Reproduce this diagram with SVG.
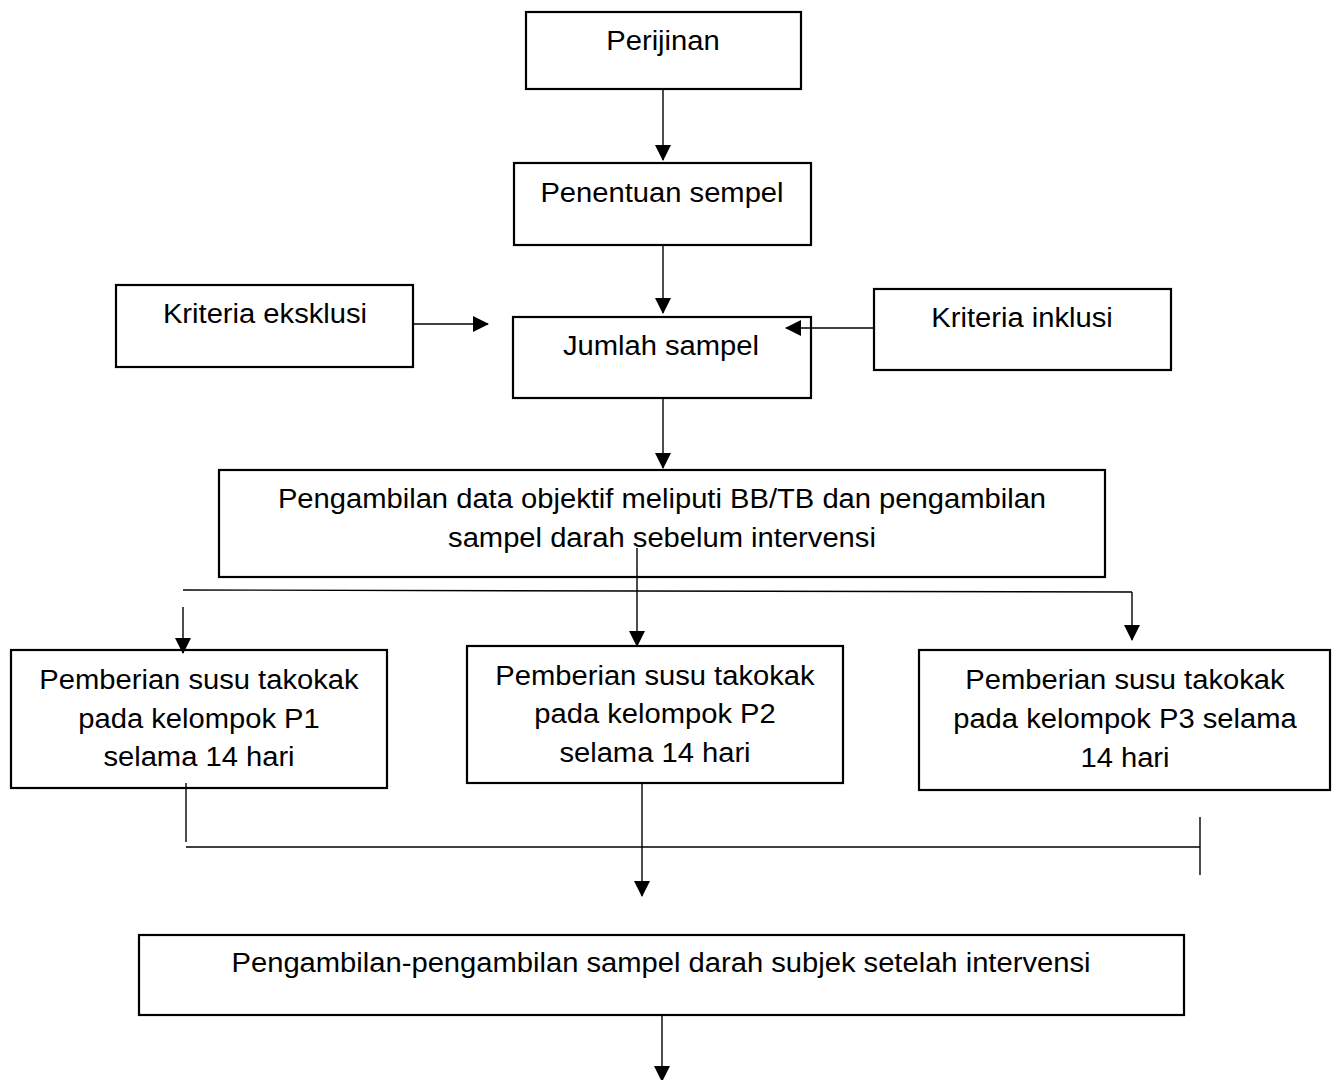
<svg xmlns="http://www.w3.org/2000/svg" width="1337" height="1080" viewBox="0 0 1337 1080">
<style>
  .box { fill: #ffffff; stroke: #000000; stroke-width: 2.2; }
  .t { font-family: "Liberation Sans", Arial, sans-serif; font-size: 27px; fill: #000000; text-anchor: middle; transform-box: fill-box; transform-origin: center; transform: scaleX(1.08); }
  .ln { fill: none; stroke: #000000; stroke-width: 1.4; }
  .arr { fill: none; stroke: #000000; stroke-width: 1.4; marker-end: url(#ah); }
</style>
<defs>
  <marker id="ah" markerUnits="userSpaceOnUse" markerWidth="16" markerHeight="16" viewBox="0 0 16 16" refX="15" refY="8" orient="auto">
    <path d="M0,0 L16,8 L0,16 Z" fill="#000000"/>
  </marker>
</defs>
<rect width="1337" height="1080" fill="#ffffff"/>

<g id="perijinan">
  <rect class="box" x="526" y="12" width="275" height="77"/>
  <text class="t" x="663" y="50">Perijinan</text>
</g>
<g id="penentuan-sempel">
  <rect class="box" x="514" y="163" width="297" height="82"/>
  <text class="t" x="662" y="202">Penentuan sempel</text>
</g>
<g id="kriteria-eksklusi">
  <rect class="box" x="116" y="285" width="297" height="82"/>
  <text class="t" x="265" y="323">Kriteria eksklusi</text>
</g>
<g id="jumlah-sampel">
  <rect class="box" x="513" y="317" width="298" height="81"/>
  <text class="t" x="661" y="355">Jumlah sampel</text>
</g>
<g id="kriteria-inklusi">
  <rect class="box" x="874" y="289" width="297" height="81"/>
  <text class="t" x="1022" y="327">Kriteria inklusi</text>
</g>
<g id="pengambilan-data">
  <rect class="box" x="219" y="470" width="886" height="107"/>
  <text class="t" x="662" y="508">Pengambilan data objektif meliputi BB/TB dan pengambilan</text>
  <text class="t" x="662" y="547">sampel darah sebelum intervensi</text>
</g>
<g id="p1">
  <rect class="box" x="11" y="650" width="376" height="138"/>
  <text class="t" x="199" y="689">Pemberian susu takokak</text>
  <text class="t" x="199" y="728">pada kelompok P1</text>
  <text class="t" x="199" y="766">selama 14 hari</text>
</g>
<g id="p2">
  <rect class="box" x="467" y="646" width="376" height="137"/>
  <text class="t" x="655" y="685">Pemberian susu takokak</text>
  <text class="t" x="655" y="723">pada kelompok P2</text>
  <text class="t" x="655" y="762">selama 14 hari</text>
</g>
<g id="p3">
  <rect class="box" x="919" y="650" width="411" height="140"/>
  <text class="t" x="1125" y="689">Pemberian susu takokak</text>
  <text class="t" x="1125" y="728">pada kelompok P3 selama</text>
  <text class="t" x="1125" y="767">14 hari</text>
</g>
<g id="pengambilan-setelah">
  <rect class="box" x="139" y="935" width="1045" height="80"/>
  <text class="t" x="661" y="972">Pengambilan-pengambilan sampel darah subjek setelah intervensi</text>
</g>

<g id="connectors">
  <path class="arr" d="M663,89 L663,160"/>
  <path class="arr" d="M663,245 L663,313"/>
  <path class="arr" d="M414,324 L488,324"/>
  <path class="arr" d="M874,328 L786,328"/>
  <path class="arr" d="M663,398 L663,468"/>
  <path class="ln" d="M183,590 L1132,592"/>
  <path class="arr" d="M183,607 L183,653"/>
  <path class="arr" d="M637,548 L637,646"/>
  <path class="arr" d="M1132,592 L1132,640"/>
  <path class="ln" d="M186,783 L186,842"/>
  <path class="ln" d="M186,847 L1200,847"/>
  <path class="ln" d="M1200,817 L1200,875"/>
  <path class="arr" d="M642,783 L642,896"/>
  <path class="arr" d="M662,1015 L662,1081"/>
</g>
</svg>
